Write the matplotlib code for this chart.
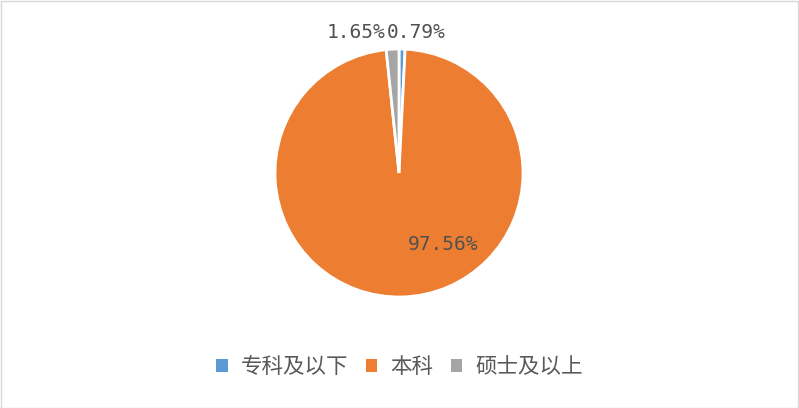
import matplotlib
matplotlib.use("Agg")
import matplotlib.pyplot as plt
from matplotlib.patches import Rectangle

plt.rcParams['font.family'] = ['Noto Sans CJK SC', 'DejaVu Sans']

categories = ['专科及以下', '本科', '硕士及以上']
values = [0.79, 97.56, 1.65]
labels = ['0.79%', '97.56%', '1.65%']
colors = ['#5B9BD5', '#ED7D31', '#A5A5A5']

W, H = 799, 408
fig = plt.figure(figsize=(W / 100, H / 100), dpi=100)
fig.patch.set_facecolor('white')
fig.add_artist(Rectangle((0.5 / W, 0.5 / H), 1 - 1.5 / W, 1 - 1.5 / H, transform=fig.transFigure,
                         fill=False, edgecolor='#D9D9D9', linewidth=1))

cx, cy, r = 399, 173, 124
ax = fig.add_axes([(cx - r) / W, (H - cy - r) / H, 2 * r / W, 2 * r / H])
wedges, _ = ax.pie(values, colors=colors, startangle=90, counterclock=False,
                   radius=1, wedgeprops=dict(edgecolor='white', linewidth=2))
ax.set_xlim(-1, 1)
ax.set_ylim(-1, 1)
ax.set_aspect('equal')
ax.axis('off')

label_pos = [(0.14, 1.137), (0.355, -0.575), (-0.35, 1.137)]
for (x, y), t in zip(label_pos, labels):
    ax.text(x, y, t, ha='center', va='center', fontsize=14, color='#505050',
            family='DejaVu Sans Mono', clip_on=False)

handles = [Rectangle((0, 0), 1, 1, facecolor=c, edgecolor='none') for c in colors]
fig.legend(handles, categories, loc='center', bbox_to_anchor=(0.5, 1 - 367 / H), ncol=3,
           frameon=False, fontsize=15.5, handlelength=0.55, handleheight=0.55,
           handletextpad=0.6, columnspacing=0.8, labelcolor='#595959')

fig.savefig('out.png', dpi=100, facecolor='white')
